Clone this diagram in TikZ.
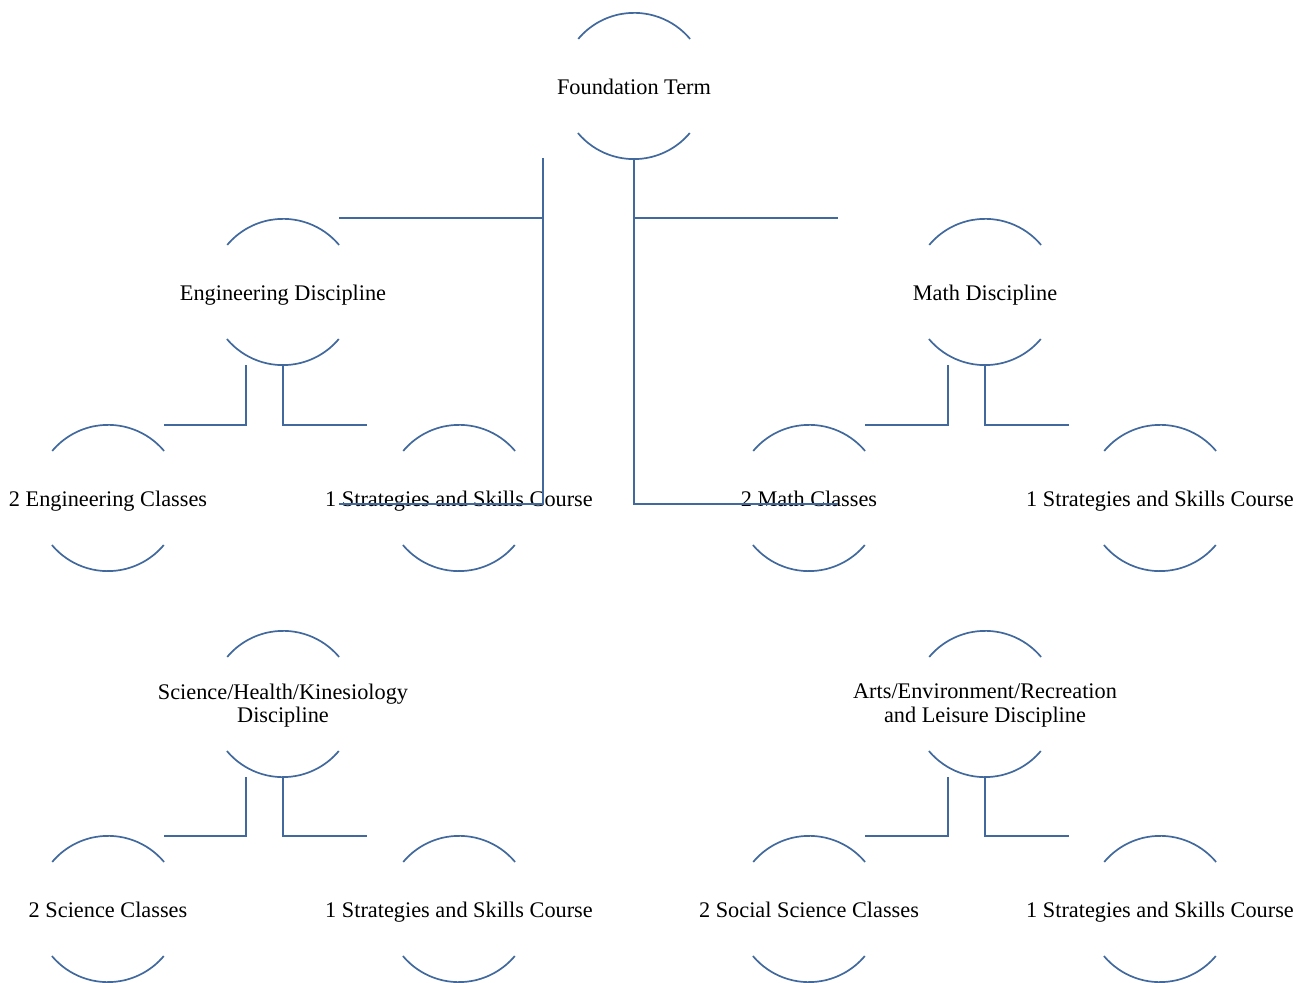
\documentclass[tikz,border=0pt]{standalone}
\usepackage{fontspec}
\setmainfont{Liberation Serif}
\definecolor{lineblue}{HTML}{41699E}
\begin{document}
\begin{tikzpicture}[x=1pt,y=1pt,
  circ/.style={circle,draw=none,minimum size=146pt,inner sep=0pt},
  lbl/.style={align=center,font=\fontsize{22.3}{23.5}\selectfont,text=black,inner sep=0pt},
  one/.style={lbl,anchor=base,yshift=-9pt},
  two/.style={lbl,anchor=center,yshift=-1.5pt},
  arcline/.style={draw=lineblue,line width=1.7pt},
  conn/.style={draw=lineblue,line width=1.7pt}]
\useasboundingbox (0,0) rectangle (1308,982);
% circles
\node[circ] (found) at (634,896) {};
\node[circ] (eng) at (283,690) {};
\node[circ] (math) at (985,690) {};
\node[circ] (engA) at (108,484) {};
\node[circ] (engB) at (459,484) {};
\node[circ] (mathA) at (809,484) {};
\node[circ] (mathB) at (1160,484) {};
\node[circ] (sci) at (283,278) {};
\node[circ] (arts) at (985,278) {};
\node[circ] (sciA) at (108,73) {};
\node[circ] (sciB) at (459,73) {};
\node[circ] (artsA) at (809,73) {};
\node[circ] (artsB) at (1160,73) {};
% arcs
\foreach \c in {found,eng,math,engA,engB,mathA,mathB,sci,arts,sciA,sciB,artsA,artsB}{
  \draw[arcline] (\c.40) arc[start angle=40,end angle=140,radius=73pt];
  \draw[arcline] (\c.220) arc[start angle=220,end angle=320,radius=73pt];
}
% labels
\node[one] (found-t) at (found) {Foundation Term};
\node[one] (eng-t) at (eng) {Engineering Discipline};
\node[one] (math-t) at (math) {Math Discipline};
\node[one] (engA-t) at (engA) {2 Engineering Classes};
\node[one] (engB-t) at (engB) {1 Strategies and Skills Course};
\node[one] (mathA-t) at (mathA) {2 Math Classes};
\node[one] (mathB-t) at (mathB) {1 Strategies and Skills Course};
\node[two] (sci-t) at (sci) {Science/Health/Kinesiology\\Discipline};
\node[two] (arts-t) at (arts) {Arts/Environment/Recreation\\and Leisure Discipline};
\node[one] (sciA-t) at (sciA) {2 Science Classes};
\node[one] (sciB-t) at (sciB) {1 Strategies and Skills Course};
\node[one] (artsA-t) at (artsA) {2 Social Science Classes};
\node[one] (artsB-t) at (artsB) {1 Strategies and Skills Course};
% connector helper coordinates
\coordinate (lbar) at (543,824);
\coordinate (rtop) at (838,764);
\coordinate (rbot) at (838,478);
% top-level connectors
\draw[conn] (found.south) -- (found.south |- rbot) -- (rbot);
\draw[conn] (found.south |- rtop) -- (rtop);
\draw[conn] (eng.40 |- rtop) -- (lbar |- rtop);
\draw[conn] (lbar) -- (lbar |- rbot) -- (eng.40 |- rbot);
% discipline to children
\foreach \p/\a in {eng/engA,math/mathA,sci/sciA,arts/artsA}{
  \draw[conn] ([xshift=-37pt]\p.south) -- ([xshift=-37pt]\p.south |- \a.north) -- (\a.40 |- \a.north);
  \draw[conn] (\p.south) -- (\p.south |- \a.north) -- ([xshift=84pt]\p.south |- \a.north);
}
\end{tikzpicture}
\end{document}
